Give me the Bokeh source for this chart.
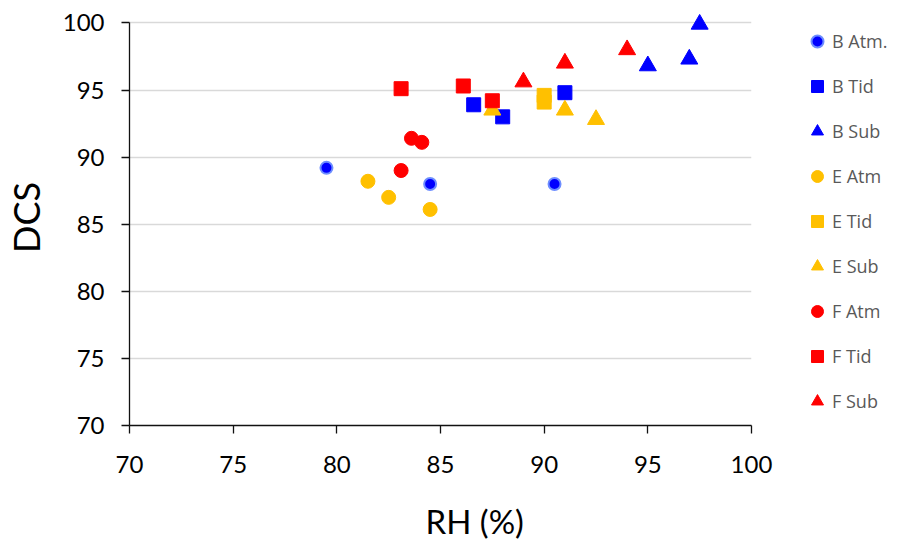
from bokeh.plotting import figure
from bokeh.models import Legend, LegendItem, FixedTicker, Range1d, Title
from bokeh.embed import file_html
from bokeh.resources import INLINE

# ---- data ----
b_atm_x = [79.5, 84.5, 90.5]
b_atm_y = [89.2, 88.0, 88.0]
b_tid_x = [86.6, 88.0, 91.0]
b_tid_y = [93.9, 93.0, 94.8]
b_sub_x = [97.5, 95.0, 97.0]
b_sub_y = [99.9, 96.8, 97.3]
e_atm_x = [81.5, 82.5, 84.5]
e_atm_y = [88.2, 87.0, 86.1]
e_tid_x = [90.0, 90.0]
e_tid_y = [94.6, 94.1]
e_sub_x = [87.5, 91.0, 92.5]
e_sub_y = [93.5, 93.5, 92.8]
f_atm_x = [83.6, 84.1, 83.1]
f_atm_y = [91.4, 91.1, 89.0]
f_tid_x = [83.1, 86.1, 87.5]
f_tid_y = [95.1, 95.3, 94.2]
f_sub_x = [89.0, 91.0, 94.0]
f_sub_y = [95.6, 97.0, 98.0]

series_labels = ["B Atm.", "B Tid", "B Sub", "E Atm", "E Tid", "E Sub", "F Atm", "F Tid", "F Sub"]
ticks = [70, 75, 80, 85, 90, 95, 100]

BLUE = "#0000FF"
ORANGE = "#FFC000"
RED = "#FF0000"

p = figure(frame_width=622, frame_height=416,
           x_range=Range1d(70, 100), y_range=Range1d(70, 101),
           output_backend="svg", toolbar_location=None,
           min_border_left=129, min_border_right=147,
           min_border_top=9, min_border_bottom=123)
p.outline_line_color = None
p.background_fill_color = "white"
p.border_fill_color = "white"

# axes
for ax in (p.xaxis[0], p.yaxis[0]):
    ax.ticker = FixedTicker(ticks=ticks)
    ax.bounds = (70, 100)
    ax.minor_tick_line_color = None
    ax.major_tick_in = 0
    ax.major_tick_out = 8
    ax.axis_line_color = "#111111"
    ax.axis_line_width = 1.3
    ax.major_tick_line_color = "#111111"
    ax.major_tick_line_width = 1.3
    ax.major_label_text_font = "Lato"
    ax.major_label_text_font_size = "24px"
    ax.major_label_text_color = "#000000"
    ax.axis_label_text_font = "Lato"
    ax.axis_label_text_font_style = "normal"
    ax.axis_label_text_color = "#000000"

p.xaxis.major_label_standoff = 22
p.yaxis.axis_label = "DCS"
p.yaxis.axis_label_text_font_size = "36px"
p.yaxis.major_label_standoff = 17
p.yaxis.axis_label_standoff = 12

p.xgrid.grid_line_color = None
p.ygrid.ticker = FixedTicker(ticks=ticks)
p.ygrid.bounds = (70, 100)
p.ygrid.grid_line_color = "#D9D9D9"
p.ygrid.grid_line_width = 1.5

# x-axis title (sits right of centre in the reference)
p.add_layout(Title(text="RH (%)", align="left", offset=296, text_font="Lato",
                   text_font_size="33px", text_font_style="normal",
                   text_color="#000000", standoff=46), "below")

# series
r1 = p.scatter(b_atm_x, b_atm_y, marker="circle", size=12, fill_color=BLUE,
               line_color="#6E8EFF", line_width=2)
r2 = p.scatter(b_tid_x, b_tid_y, marker="square", size=14, fill_color=BLUE, line_color=BLUE)
r3 = p.scatter(b_sub_x, b_sub_y, marker="triangle", size=17, fill_color=BLUE, line_color=BLUE)
r4 = p.scatter(e_atm_x, e_atm_y, marker="circle", size=14, fill_color=ORANGE, line_color=ORANGE)
r5 = p.scatter(e_tid_x, e_tid_y, marker="square", size=14, fill_color=ORANGE, line_color=ORANGE)
r6 = p.scatter(e_sub_x, e_sub_y, marker="triangle", size=17, fill_color=ORANGE, line_color=ORANGE)
r7 = p.scatter(f_atm_x, f_atm_y, marker="circle", size=14, fill_color=RED, line_color=RED)
r8 = p.scatter(f_tid_x, f_tid_y, marker="square", size=14, fill_color=RED, line_color=RED)
r9 = p.scatter(f_sub_x, f_sub_y, marker="triangle", size=17, fill_color=RED, line_color=RED)

renderers = [r1, r2, r3, r4, r5, r6, r7, r8, r9]
legend = Legend(items=[LegendItem(label=l, renderers=[r]) for l, r in zip(series_labels, renderers)],
                location=(51, 9), orientation="vertical",
                glyph_width=30, glyph_height=30, label_height=30, spacing=15,
                padding=0, margin=0, border_line_color=None, background_fill_alpha=0,
                label_text_font="Open Sans", label_text_font_size="18px",
                label_text_color="#595959", label_standoff=-2)
p.add_layout(legend, "right")

open("out.html", "w").write(file_html(p, INLINE))
